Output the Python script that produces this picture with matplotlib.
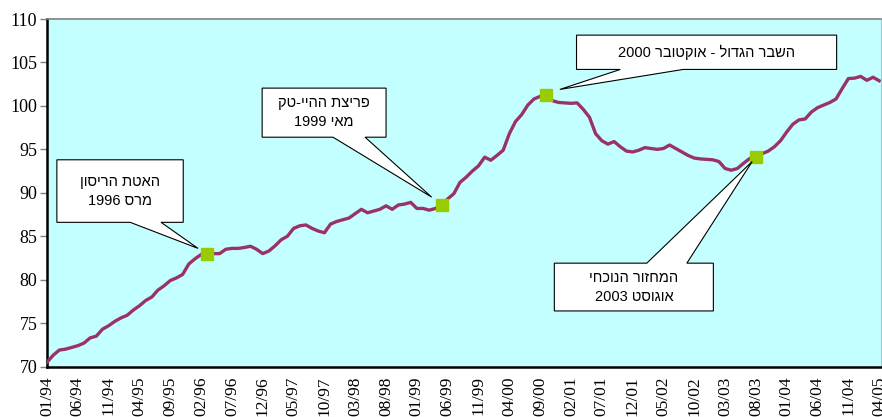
#Hebrew business-cycle chart, monthly index 01/94 - 04/05
import re
import numpy as np
import matplotlib
matplotlib.use('Agg')
import matplotlib.pyplot as plt
from matplotlib.patches import Polygon

#monthly values (01/94 ... 04/05)
values = [70.5, 71.3, 71.9, 72.0, 72.2, 72.4, 72.7, 73.3, 73.5, 74.3,
          74.7, 75.2, 75.6, 75.9, 76.5, 77.0, 77.6, 78.0, 78.8, 79.3,
          79.9, 80.2, 80.6, 81.8, 82.4, 82.9, 83.0, 83.0, 83.0, 83.5,
          83.6, 83.6, 83.7, 83.85, 83.5, 83.0, 83.3, 83.9, 84.6, 85.0,
          85.9, 86.2, 86.3, 85.9, 85.6, 85.4, 86.4, 86.7, 86.9, 87.1,
          87.6, 88.1, 87.7, 87.9, 88.1, 88.5, 88.1, 88.6, 88.7, 88.9,
          88.2, 88.2, 88.0, 88.2, 88.6, 89.3, 89.9, 91.2, 91.8, 92.5,
          93.1, 94.1, 93.75, 94.3, 94.9, 96.8, 98.2, 99.0, 100.1, 100.8,
          101.1, 101.25, 100.6, 100.4, 100.35, 100.3, 100.35, 99.6, 98.7, 96.8,
          96.0, 95.6, 95.9, 95.3, 94.8, 94.7, 94.9, 95.2, 95.1, 95.0,
          95.1, 95.5, 95.1, 94.7, 94.3, 94.0, 93.9, 93.85, 93.8, 93.6,
          92.8, 92.6, 92.8, 93.4, 93.95, 94.15, 94.5, 94.8, 95.3, 96.0,
          97.0, 97.9, 98.4, 98.5, 99.3, 99.8, 100.1, 100.4, 100.8, 102.0,
          103.15, 103.2, 103.4, 102.95, 103.3, 102.9]

#tick labels every 5 months
tick_labels = ['01/94', '06/94', '11/94', '04/95', '09/95', '02/96', '07/96',
               '12/96', '05/97', '10/97', '03/98', '08/98', '01/99', '06/99',
               '11/99', '04/00', '09/00', '02/01', '07/01', '12/01', '05/02',
               '10/02', '03/03', '08/03', '01/04', '06/04', '11/04', '04/05']

#highlighted months (index from 01/94)
marker_idx = [26, 64, 81, 115]

#callout texts (logical order)
callout_texts = ['האטת הריסון\nמרס 1996',
                 'פריצת ההיי-טק\nמאי 1999',
                 'השבר הגדול - אוקטובר 2000',
                 'המחזור הנוכחי\nאוגוסט 2003']


def visual(s):
    # matplotlib has no bidi: reverse hebrew, keep digits left-to-right
    out = []
    for line in s.split('\n'):
        r = line[::-1]
        r = re.sub(r'\d+', lambda m: m.group()[::-1], r)
        out.append(r)
    return '\n'.join(out)


x = np.arange(len(values))
y = np.array(values)

fig = plt.figure(figsize=(8.82, 4.17), dpi=100)
ax = fig.add_axes([0.0533, 0.121, 0.9456, 0.8333])
ax.set_facecolor('#C4FFFF')

ax.plot(x, y, color='#993366', lw=2.4, solid_joinstyle='round', zorder=3)
ax.plot(x[marker_idx], y[marker_idx], 's', color='#99CC00', ms=8.5, zorder=4)

ax.set_xlim(0, 135.3)
ax.set_ylim(70, 110)
ax.set_yticks(np.arange(70, 111, 5))
ax.set_xticks(np.arange(0, len(values), 5))
ax.set_xticklabels(tick_labels, rotation=90, family='Liberation Serif', fontsize=12.5)
for t in ax.get_yticklabels():
    t.set_family('Liberation Serif')
    t.set_fontsize(13)
ax.tick_params(axis='x', length=0, pad=7)
ax.tick_params(axis='y', length=5, width=1, color='#808080', pad=2)

ax.spines['left'].set_linewidth(1.8)
ax.spines['bottom'].set_linewidth(1.8)
ax.spines['top'].set_color('#808080')
ax.spines['top'].set_linewidth(1.2)
ax.spines['right'].set_color('#9EC8D0')


#callout: box (x0,x1,y0,y1), wedge base (b0,b1) on bottom or top edge, tip
def callout(box, base, tip, side, text):
    x0, x1, y0, y1 = box
    b0, b1 = base
    if side == 'bottom':
        pts = [(x0, y1), (x1, y1), (x1, y0), (b1, y0), tip, (b0, y0), (x0, y0)]
    else:
        pts = [(x0, y0), (x1, y0), (x1, y1), (b1, y1), tip, (b0, y1), (x0, y1)]
    ax.add_patch(Polygon(pts, closed=True, facecolor='white', edgecolor='black',
                         lw=0.8, zorder=5))
    ax.text((x0 + x1) / 2, (y0 + y1) / 2, visual(text), ha='center', va='center',
            family=['Liberation Sans', 'DejaVu Sans'], fontsize=10.5,
            linespacing=1.45, zorder=6)


callout((1.6, 22.1, 86.6, 93.8), (13.5, 18.5), (24.5, 83.6), 'bottom', callout_texts[0])
callout((34.9, 55.0, 96.4, 102.05), (46.4, 51.6), (62.4, 89.5), 'bottom', callout_texts[1])
callout((85.9, 128.1, 104.2, 108.15), (93.0, 103.2), (83.2, 101.9), 'bottom', callout_texts[2])
callout((82.3, 108.1, 76.4, 81.9), (97.3, 103.8), (114.4, 93.6), 'top', callout_texts[3])

fig.savefig('out.png', dpi=100)
